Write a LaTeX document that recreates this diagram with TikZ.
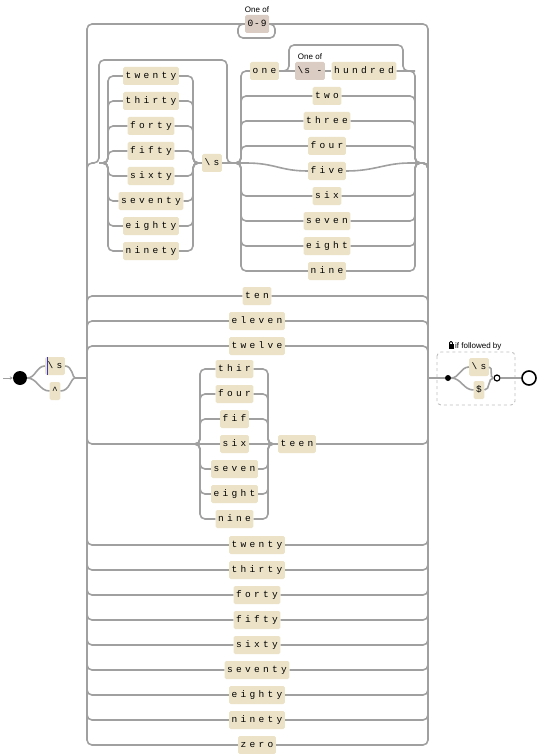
\documentclass[tikz,border=0pt]{standalone}
\usepackage{fontspec}
\usetikzlibrary{positioning,arrows.meta}
\newfontfamily\railmono[LetterSpace=35]{Liberation Mono}
\newfontfamily\setmono[LetterSpace=10]{Liberation Mono}
\newfontfamily\railsans{Liberation Sans}
\definecolor{railgray}{RGB}{160,160,160}
\definecolor{litfill}{RGB}{235,226,199}
\definecolor{setfill}{RGB}{219,204,195}
\definecolor{lookgray}{RGB}{190,190,190}

\begin{document}
\begin{tikzpicture}[x=1pt, y=-1pt,
    rail/.style={draw=railgray, line width=1.6pt, rounded corners=5pt},
    lit/.style={fill=litfill, rounded corners=1.5pt, inner xsep=2.5pt, inner ysep=0pt, minimum height=18pt,
                text height=6.5pt, text depth=1.5pt, font=\railmono\fontsize{9.5}{10}\selectfont},
    cset/.style={lit, fill=setfill, font=\setmono\fontsize{9.5}{10}\selectfont},
    note/.style={font=\railsans\fontsize{8}{9}\selectfont, inner sep=0pt},
    dot/.style={circle, fill=black, inner sep=0pt}]
  \useasboundingbox (0,0) rectangle (540,754);

  \coordinate (in) at (3,378);
  \coordinate (preJ) at (80,378);
  \coordinate (bigL) at (87,378);
  \coordinate (bigR) at (428,378);
  \node[dot, minimum size=14pt] (begin) at (20,378) {};
  \draw[railgray, line width=1pt, -{Stealth[length=3pt,width=3.5pt]}] (in) -- (begin.west);

  \node[lit] (ws) at (55,366) {\textbackslash s};
  \node[lit] (caret) at (55,391) {\textasciicircum};
  \draw[blue!55!gray, line width=0.8pt] ([xshift=2pt]ws.north west) -- ([xshift=2pt]ws.south west);
  \foreach \n in {ws, caret} {
    \draw[rail] (begin.east) to[out=0, in=180] (\n.west);
    \draw[rail] (\n.east) to[out=0, in=180] (preJ) -- (bigL);
  }

  \node[cset] (digits) at (257,24) {0-9};
  \node[note, above=2pt of digits] (digitsnote) {One of};
  \draw[rail] (bigL) -- (87,24) -- (digits.west);
  \draw[rail] (digits.east) -- (428,24) -- (bigR);
  \draw[rail] (digits.east) -- (275,24) -- (275,38) -- (238,38) -- (238,24) -- (digits.west);

  \coordinate (tensIn) at (99,163);
  \draw[rail] (bigL) -- (87,163) -- (tensIn) -- (99,60) -- (227,60) -- (227,163) -- (241,163);
  \node[lit] (gap) at (212,163) {\textbackslash s};
  \foreach \w [count=\i] in {twenty,thirty,forty,fifty,sixty,seventy,eighty,ninety} {
    \node[lit] (pre\i) at (151,51+25*\i) {\w};
    \draw[rail] (tensIn) -- (108,163) -- (108,51+25*\i) -- (pre\i.west);
    \draw[rail] (pre\i.east) -- (193,51+25*\i) -- (193,163) -- (gap.west);
  }

  \node[lit] (unit1) at (264.5,71) {one};
  \node[cset] (hyph) at (310,71) {\textbackslash s -};
  \node[note, above=2pt of hyph] (hyphnote) {One of};
  \node[lit] (hund) at (364,71) {hundred};
  \draw[rail] (gap.east) -- (241,163) -- (241,71) -- (unit1.west);
  \draw[rail] (unit1.east) -- (hyph.west);
  \draw[rail] (hyph.east) -- (hund.west);
  \draw[rail] (hund.east) -- (415,71) -- (415,163) -- (428,163) -- (bigR);
  \draw[rail] (unit1.east) -- (289,71) -- (289,45) -- (403,45) -- (403,71) -- (415,71);
  \foreach \w [count=\i from 2] in {two,three,four,five,six,seven,eight,nine}
    \node[lit] (unit\i) at (327,46+25*\i) {\w};
  \foreach \i in {2,3,4,6,7,8,9} {
    \draw[rail] (gap.east) -- (241,163) -- (241,46+25*\i) -- (unit\i.west);
    \draw[rail] (unit\i.east) -- (415,46+25*\i) -- (415,163) -- (428,163) -- (bigR);
  }
  \draw[rail] (gap.east) -- (241,163) .. controls (275,163) and (280,171) .. (unit5.west);
  \draw[rail] (unit5.east) .. controls (375,171) and (385,163) .. (415,163) -- (428,163) -- (bigR);

  \foreach \w/\y in {ten/296, eleven/321, twelve/346} {
    \node[lit] (\w) at (257,\y) {\w};
    \draw[rail] (bigL) -- (87,\y) -- (\w.west);
    \draw[rail] (\w.east) -- (428,\y) -- (bigR);
  }

  \coordinate (stemL) at (192,444);
  \coordinate (stemR) at (276,444);
  \node[lit] (teen) at (297,444) {teen};
  \foreach \w [count=\i] in {thir,four,fif,six,seven,eight,nine}
    \node[lit] (stem\i) at (234.5,344+25*\i) {\w};
  \draw[rail] (bigL) -- (87,444) -- (stem4.west);
  \draw[rail] (stem4.east) -- (teen.west);
  \draw[rail] (teen.east) -- (428,444) -- (bigR);
  \foreach \i in {1,2,3,5,6,7} {
    \draw[rail] (stemL) -- (200,444) -- (200,344+25*\i) -- (stem\i.west);
    \draw[rail] (stem\i.east) -- (268,344+25*\i) -- (268,444) -- (stemR);
  }

  \foreach \w [count=\i] in {twenty,thirty,forty,fifty,sixty,seventy,eighty,ninety,zero} {
    \node[lit] (\w) at (257,520+25*\i) {\w};
    \draw[rail] (bigL) -- (87,520+25*\i) -- (\w.west);
    \draw[rail] (\w.east) -- (428,520+25*\i) -- (bigR);
  }

  \draw[lookgray, dashed, rounded corners=4pt, line width=0.9pt] (437,352) rectangle (515,405);
  \node[note, anchor=west] (looknote) at (455,346) {if followed by};
  \fill (448.5,344) rectangle (453.5,348.5);
  \draw[line width=0.8pt, rounded corners=1.2pt] (449.6,344.5) -- (449.6,341.5) -- (452.4,341.5) -- (452.4,344.5);
  \node[dot, minimum size=6pt] (lkin) at (448,378) {};
  \node[lit] (lws) at (479,367) {\textbackslash s};
  \node[lit] (dollar) at (479,390) {\$};
  \node[circle, draw=black, fill=white, line width=1.2pt, minimum size=6pt, inner sep=0pt] (lkout) at (497,378) {};
  \node[circle, draw=black, line width=1.6pt, minimum size=14pt, inner sep=0pt] (finish) at (529,378) {};
  \draw[rail] (bigR) -- (lkin.west);
  \foreach \n in {lws, dollar} {
    \draw[rail] (lkin.east) to[out=0, in=180] (\n.west);
    \draw[rail] (\n.east) to[out=0, in=180] (lkout.west);
  }
  \draw[rail] (lkout.east) -- (finish.west);
\end{tikzpicture}
\end{document}
